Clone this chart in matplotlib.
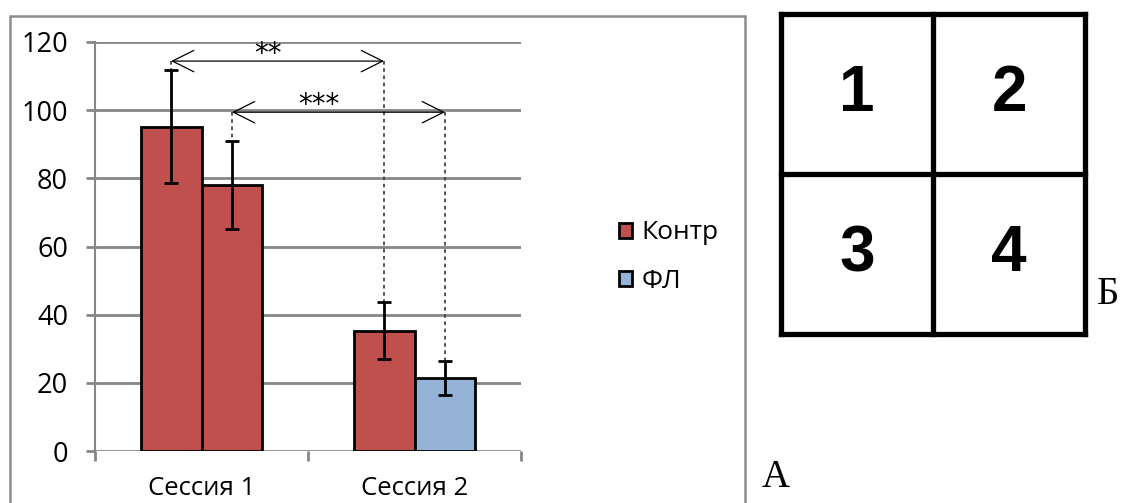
import numpy as np
import matplotlib.pyplot as plt
from matplotlib.patches import Patch, Rectangle

# data
sessions = ["Сессия 1", "Сессия 2"]
series = ["Контр", "ФЛ"]
kontr = [95.2, 35.3]
kontr_err = [16.5, 8.3]
fl = [78.0, 21.5]
fl_err = [13.0, 5.0]
# bar colours as drawn (session 1 ФЛ bar is red in the source)
kontr_colors = ["#C0504D", "#C0504D"]
fl_colors = ["#C0504D", "#95B3D7"]

sig_labels = ["**", "***"]
sig_levels = [114.4, 99.4]

grid_labels = ["1", "2", "3", "4"]

plt.rcParams["font.family"] = ["Open Sans", "DejaVu Sans"]

W, H = 1130, 503
fig = plt.figure(figsize=(W / 100, H / 100), dpi=100)

def fx(px):
    return px / W

def fy(py):
    return 1 - py / H

# outer chart frame
fig.patches.append(Rectangle((fx(10), fy(530)), fx(745) - fx(10), fy(16) - fy(530),
                             transform=fig.transFigure, fill=False,
                             edgecolor="#8C8C8C", lw=1.8, clip_on=False))

ax = fig.add_axes([fx(95), fy(451), fx(521) - fx(95), fy(42) - fy(451)])
grey = "#868686"
x = np.arange(len(sessions))
w = 0.286

ax.bar(x - w / 2, kontr, w, color=kontr_colors, edgecolor="black", lw=2, zorder=3)
ax.bar(x + w / 2, fl, w, color=fl_colors, edgecolor="black", lw=2, zorder=3)
ax.errorbar(x - w / 2, kontr, yerr=kontr_err, fmt="none", ecolor="black",
            elinewidth=2, capsize=5, capthick=2, zorder=4)
ax.errorbar(x + w / 2, fl, yerr=fl_err, fmt="none", ecolor="black",
            elinewidth=2, capsize=5, capthick=2, zorder=4)

ax.set_xlim(-0.5, 1.5)
ax.set_ylim(0, 120)
ax.set_yticks(np.arange(0, 121, 20))
ax.yaxis.grid(True, color=grey, lw=2)
ax.set_axisbelow(True)
for s in ["top", "right", "bottom"]:
    ax.spines[s].set_visible(False)
ax.spines["left"].set_color(grey)
ax.spines["left"].set_linewidth(1.5)
ax.tick_params(axis="y", length=6.5, width=2, color=grey, pad=13, labelsize=19.5)
ax.set_xticks(x)
ax.set_xticklabels(sessions)
ax.tick_params(axis="x", length=0, pad=18, labelsize=18.5)
ax.set_xticks([-0.5, 0.5, 1.5], minor=True)
ax.tick_params(axis="x", which="minor", length=7.5, width=2, color=grey)

# significance brackets
tops = [
    (x[0] - w / 2, kontr[0] + kontr_err[0], x[1] - w / 2, kontr[1] + kontr_err[1]),
    (x[0] + w / 2, fl[0] + fl_err[0], x[1] + w / 2, fl[1] + fl_err[1]),
]
for (x1, t1, x2, t2), lab, lev in zip(tops, sig_labels, sig_levels):
    ax.annotate("", xy=(x1, lev), xytext=(x2, lev),
                arrowprops=dict(arrowstyle="<->,head_length=1.1,head_width=0.55",
                                lw=0.9, color="black", shrinkA=0, shrinkB=0,
                                mutation_scale=14), zorder=5)
    ax.plot([x1, x1], [lev, t1], color="#444444", lw=1.3, ls=(0, (2, 2)), zorder=2)
    ax.plot([x2, x2], [lev, t2], color="#444444", lw=1.3, ls=(0, (2, 2)), zorder=2)
ax.text(0.31, sig_levels[0] - 0.3, sig_labels[0], ha="center", va="baseline", fontsize=20,
        family=["DejaVu Sans"])
ax.text(0.55, sig_levels[1] - 0.3, sig_labels[1], ha="center", va="baseline", fontsize=20,
        family=["DejaVu Sans"])

handles = [Patch(facecolor="#C0504D", edgecolor="black", lw=2),
           Patch(facecolor="#95B3D7", edgecolor="black", lw=2)]
fig.legend(handles, series, loc="center left", bbox_to_anchor=(fx(595), fy(257)),
           frameon=False, fontsize=19, handlelength=0.5, handleheight=0.5,
           handletextpad=0.35, labelspacing=0.88)

# right panel: 2x2 grid
ax2 = fig.add_axes([fx(781), fy(334), fx(1085) - fx(781), fy(14) - fy(334)])
ax2.set_xlim(0, 2)
ax2.set_ylim(0, 2)
ax2.axis("off")
for v in [0, 1, 2]:
    ax2.plot([v, v], [0, 2], color="black", lw=3.8, solid_capstyle="projecting", clip_on=False)
    ax2.plot([0, 2], [v, v], color="black", lw=3.8, solid_capstyle="projecting", clip_on=False)
for i, lab in enumerate(grid_labels):
    cx = i % 2 + 0.5
    cy = 1.5 - i // 2
    ax2.text(cx, cy, lab, ha="center", va="center", fontsize=46,
             fontweight="bold", fontstretch="condensed",
             family=["Liberation Sans Narrow", "Liberation Sans", "DejaVu Sans"])

fig.text(fx(762), fy(487), "А", fontsize=28, family=["Liberation Serif"], ha="left", va="baseline")
fig.text(fx(1097), fy(304), "Б", fontsize=28, family=["Liberation Serif"], ha="left", va="baseline")

fig.savefig("out.png", dpi=100)
